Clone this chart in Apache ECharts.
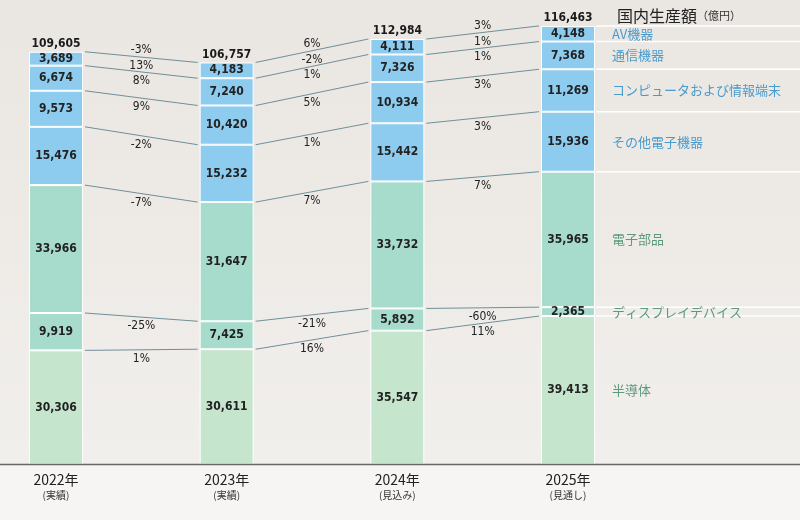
<!DOCTYPE html>
<html><head><meta charset="utf-8">
<script src="https://cdn.jsdelivr.net/npm/echarts@6/dist/echarts.min.js"></script>
<style>html,body{margin:0;padding:0;background:#f4f2ef}#c{width:800px;height:520px}</style>
</head><body><div id="c"></div>
<script>
const categories = ['2022年', '2023年', '2024年', '2025年'];
const subLabels = ['(実績)', '(実績)', '(見込み)', '(見通し)'];
const seriesNames = ['半導体', 'ディスプレイデバイス', '電子部品', 'その他電子機器', 'コンピュータおよび情報端末', '通信機器', 'AV機器'];
const semiconductor = [30306, 30611, 35547, 39413];
const displayDevices = [9919, 7425, 5892, 2365];
const electronicParts = [33966, 31647, 33732, 35965];
const otherEquipment = [15476, 15232, 15442, 15936];
const computers = [9573, 10420, 10934, 11269];
const telecom = [6674, 7240, 7326, 7368];
const avEquipment = [3689, 4183, 4111, 4148];
const totals = [109605, 106757, 112984, 116463];
const pctSemiconductor = ['1%', '16%', '11%'];
const pctDisplay = ['-25%', '-21%', '-60%'];
const pctParts = ['-7%', '7%', '7%'];
const pctOther = ['-2%', '1%', '3%'];
const pctComputers = ['9%', '5%', '3%'];
const pctTelecom = ['8%', '1%', '1%'];
const pctAv = ['13%', '-2%', '1%'];
const pctTotal = ['-3%', '6%', '3%'];

const seriesValues = [semiconductor, displayDevices, electronicParts, otherEquipment, computers, telecom, avEquipment];
const seriesPct = [pctSemiconductor, pctDisplay, pctParts, pctOther, pctComputers, pctTelecom, pctAv];
const blue = '#8dcbef', teal = '#a7dbcb', lightGreen = '#c5e5cc';
const colors = [lightGreen, teal, teal, blue, blue, blue, blue];
const nameColors = ['#5c9a7c', '#5c9a7c', '#5c9a7c', '#4a9bcb', '#4a9bcb', '#4a9bcb', '#4a9bcb'];
const numFont = "'Liberation Sans Narrow','DejaVu Sans Condensed','Roboto',sans-serif";
const jpFont = "'Noto Sans CJK JP',sans-serif";
const BAR_W = 54;

function stackTop(s, g) {
  let t = 0;
  for (let k = 0; k <= s; k++) t += seriesValues[k][g];
  return t;
}

const chart = echarts.init(document.getElementById('c'));

const barSeries = seriesNames.map((name, s) => ({
  name, type: 'bar', stack: 'total', barWidth: BAR_W,
  data: seriesValues[s],
  itemStyle: { color: colors[s], borderColor: '#ffffff', borderWidth: 1 },
  label: { show: true, position: 'inside', color: '#222', fontFamily: numFont, fontWeight: 'bold', fontSize: 12,
    formatter: p => p.value.toLocaleString('en-US') },
  z: 3
}));

const connectorData = [];
for (let g = 0; g < categories.length - 1; g++) for (let s = 0; s < seriesNames.length; s++) connectorData.push([g, s]);

const connectorSeries = {
  type: 'custom', z: 2, silent: true,
  data: connectorData,
  renderItem: (params, api) => {
    const g = api.value(0), s = api.value(1);
    const p0 = api.coord([g, stackTop(s, g)]);
    const p1 = api.coord([g + 1, stackTop(s, g + 1)]);
    const x0 = p0[0] + BAR_W / 2 + 2, x1 = p1[0] - BAR_W / 2 - 2;
    const midX = (x0 + x1) / 2, midY = (p0[1] + p1[1]) / 2;
    const children = [
      { type: 'line', shape: { x1: x0, y1: p0[1], x2: x1, y2: p1[1] }, style: { stroke: '#6f8f99', lineWidth: 1 } },
      { type: 'text', x: midX, y: midY + 9, style: { text: seriesPct[s][g], align: 'center', verticalAlign: 'middle', fill: '#222', font: "12px " + numFont } }
    ];
    if (s === seriesNames.length - 1) {
      children.push({ type: 'text', x: midX, y: midY - 7, style: { text: pctTotal[g], align: 'center', verticalAlign: 'middle', fill: '#222', font: "12px " + numFont } });
    }
    return { type: 'group', children };
  }
};

const nameData = seriesNames.map((n, s) => [categories.length - 1, s]);
const nameSeries = {
  type: 'custom', z: 2, silent: true,
  data: nameData,
  renderItem: (params, api) => {
    const g = api.value(0), s = api.value(1);
    const top = api.coord([g, stackTop(s, g)]);
    const bottom = api.coord([g, stackTop(s, g) - seriesValues[s][g]]);
    const xr = top[0] + BAR_W / 2;
    return { type: 'group', children: [
      { type: 'line', shape: { x1: xr + 1, y1: top[1], x2: api.getWidth(), y2: top[1] }, style: { stroke: '#ffffff', lineWidth: 1.5 } },
      { type: 'text', x: xr + 17, y: (top[1] + bottom[1]) / 2, style: { text: seriesNames[s], align: 'left', verticalAlign: 'middle', fill: nameColors[s], font: "13px " + jpFont } }
    ] };
  }
};

const totalSeries = {
  type: 'scatter', data: totals, symbolSize: 0, silent: true, z: 4,
  itemStyle: { opacity: 1 },
  label: { show: true, position: 'top', distance: 2, color: '#1a1a1a', fontFamily: numFont, fontWeight: 'bold', fontSize: 12,
    formatter: p => p.value.toLocaleString('en-US') }
};

chart.setOption({
  animation: false,
  backgroundColor: 'transparent',
  title: {
    left: 612, top: 3,
    text: '{a|国内生産額}{b|（億円）}',
    textStyle: { fontWeight: 'normal', rich: {
      a: { fontSize: 16, color: '#222', fontFamily: jpFont, fontWeight: 'normal' },
      b: { fontSize: 11, color: '#333', fontFamily: jpFont, fontWeight: 'normal' }
    } }
  },
  grid: { left: -29.33, right: 146.67, top: 12.6, bottom: 55.5, outerBoundsMode: 'none', containLabel: false },
  xAxis: {
    type: 'category', data: categories,
    axisLine: { show: false }, axisTick: { show: false },
    axisLabel: { margin: 7, interval: 0, formatter: (v, i) => '{y|' + v + '}\n{s|' + subLabels[i] + '}',
      rich: { y: { fontSize: 14, color: '#222', fontFamily: jpFont, lineHeight: 17 },
              s: { fontSize: 10, color: '#333', fontFamily: jpFont, lineHeight: 14 } } }
  },
  yAxis: { type: 'value', min: 0, max: 120000, show: false, splitLine: { show: false } },
  series: [...barSeries, connectorSeries, nameSeries, totalSeries]
});

const axisY = chart.convertToPixel({ yAxisIndex: 0 }, 0);
chart.setOption({
  graphic: [
    { type: 'rect', z: -10, shape: { x: 0, y: 0, width: 800, height: axisY },
      style: { fill: new echarts.graphic.LinearGradient(0, 0, 0, 1, [{ offset: 0, color: '#eae6e1' }, { offset: 1, color: '#f1efec' }]) } },
    { type: 'rect', z: -10, shape: { x: 0, y: axisY, width: 800, height: 520 - axisY }, style: { fill: '#f6f5f3' } },
    { type: 'line', z: 10, shape: { x1: 0, y1: axisY, x2: 800, y2: axisY }, style: { stroke: '#666', lineWidth: 1.5 } }
  ]
});
</script></body></html>
